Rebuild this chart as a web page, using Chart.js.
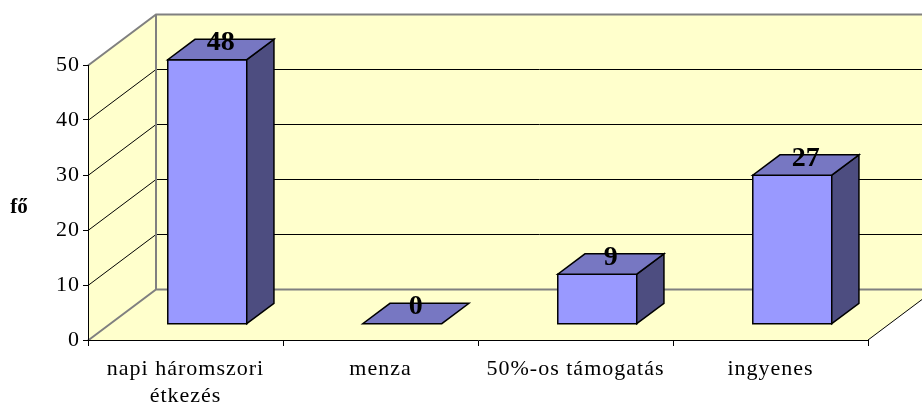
<!DOCTYPE html>
<html>
<head>
<meta charset="utf-8">
<script src="https://cdn.jsdelivr.net/npm/chart.js@4/dist/chart.umd.min.js"></script>
<style>
  html, body { margin: 0; padding: 0; background: #fff; }
  #wrap { width: 922px; height: 405px; }
</style>
</head>
<body>
<div id="wrap"><canvas id="c" width="922" height="405"></canvas></div>
<script>
// ---- data ----
const categories = [['napi háromszori', 'étkezés'], 'menza', '50%-os támogatás', 'ingyenes'];
const values = [48, 0, 9, 27];
const yTicks = [0, 10, 20, 30, 40, 50];
const yTitle = 'fő';

// ---- style ----
const FONT = '"Liberation Serif", "Times New Roman", serif';
const LETTER = '1px';
const WALL = '#FFFFCC';
const EDGE = '#808080';
const FRONT = '#9999FF';
const TOP = '#7777C2';
const SIDE = '#4D4D80';
const DX = 68, DY = 51;       // wall depth (oblique projection)
const F0 = 0.32, F1 = 0.72;   // bar depth span as fraction of wall depth

const threeD = {
  id: 'threeD',
  beforeUpdate(chart) { chart.ctx.letterSpacing = LETTER; },
  beforeDraw(chart) {
    const { ctx, chartArea: a, scales: { y } } = chart;
    ctx.letterSpacing = LETTER;
    ctx.save();
    ctx.fillStyle = '#fff';
    ctx.fillRect(0, 0, chart.width, chart.height);
    const y0 = y.getPixelForValue(0), yMax = y.getPixelForValue(yTicks[yTicks.length - 1]);
    const farR = a.right + DX + 40;
    // back wall
    ctx.fillStyle = WALL;
    ctx.fillRect(a.left + DX, yMax - DY, farR - a.left - DX, y0 - yMax);
    // left wall
    ctx.beginPath();
    ctx.moveTo(a.left, y0); ctx.lineTo(a.left, yMax);
    ctx.lineTo(a.left + DX, yMax - DY); ctx.lineTo(a.left + DX, y0 - DY);
    ctx.closePath(); ctx.fill();
    // floor
    ctx.beginPath();
    ctx.moveTo(a.left, y0); ctx.lineTo(a.right, y0);
    ctx.lineTo(a.right + DX, y0 - DY); ctx.lineTo(a.left + DX, y0 - DY);
    ctx.closePath(); ctx.fill();
    // gridlines
    yTicks.forEach(v => {
      const py = Math.round(y.getPixelForValue(v)) + 0.5;
      const edge = (v === yTicks[0] || v === yTicks[yTicks.length - 1]);
      ctx.strokeStyle = edge ? EDGE : '#000';
      ctx.lineWidth = edge ? 2 : 1;
      ctx.beginPath();
      ctx.moveTo(a.left, py); ctx.lineTo(a.left + DX, py - DY); ctx.lineTo(farR, py - DY);
      ctx.stroke();
    });
    // back wall left edge
    ctx.strokeStyle = EDGE; ctx.lineWidth = 2;
    ctx.beginPath();
    ctx.moveTo(a.left + DX, yMax - DY); ctx.lineTo(a.left + DX, y0 - DY);
    ctx.stroke();
    // floor right edge
    ctx.strokeStyle = '#000'; ctx.lineWidth = 1;
    ctx.beginPath();
    ctx.moveTo(a.right, y0); ctx.lineTo(a.right + DX, y0 - DY);
    ctx.stroke();
    // axis title (horizontal)
    ctx.letterSpacing = '0px';
    ctx.fillStyle = '#000';
    ctx.font = 'bold 21px ' + FONT;
    ctx.textAlign = 'center'; ctx.textBaseline = 'middle';
    ctx.fillText(yTitle, 19, (a.top + a.bottom) / 2 + 5);
    ctx.restore();
  },
  afterDatasetsDraw(chart) {
    const { ctx, scales: { y } } = chart;
    const meta = chart.getDatasetMeta(0);
    ctx.save();
    ctx.lineWidth = 1.5; ctx.strokeStyle = '#000'; ctx.lineJoin = 'miter';
    const fx0 = DX * F0, fy0 = DY * F0;
    const bdx = DX * (F1 - F0), bdy = DY * (F1 - F0);
    meta.data.forEach((el, i) => {
      const v = values[i];
      const w = el.width;
      const L = el.x - w / 2 + fx0, R = L + w;
      const B = y.getPixelForValue(0) - fy0;
      const T = y.getPixelForValue(v) - fy0;
      const poly = (pts, fill) => {
        ctx.beginPath();
        ctx.moveTo(pts[0][0], pts[0][1]);
        for (let k = 1; k < pts.length; k++) ctx.lineTo(pts[k][0], pts[k][1]);
        ctx.closePath(); ctx.fillStyle = fill; ctx.fill(); ctx.stroke();
      };
      if (B - T > 0.5) {
        poly([[L, B], [R, B], [R, T], [L, T]], FRONT);
        poly([[R, B], [R + bdx, B - bdy], [R + bdx, T - bdy], [R, T]], SIDE);
      }
      poly([[L, T], [R, T], [R + bdx, T - bdy], [L + bdx, T - bdy]], TOP);
      // value label
      ctx.save();
      ctx.letterSpacing = '0px';
      ctx.fillStyle = '#000';
      ctx.font = 'bold 28px ' + FONT;
      ctx.textAlign = 'center'; ctx.textBaseline = 'alphabetic';
      ctx.fillText(String(v), (L + R) / 2 + bdx / 2, T - bdy / 2 + 1);
      ctx.restore();
    });
    ctx.restore();
  }
};

new Chart(document.getElementById('c'), {
  type: 'bar',
  data: {
    labels: categories,
    datasets: [{
      data: values,
      backgroundColor: 'rgba(0,0,0,0)',
      borderWidth: 0,
      barPercentage: 0.405,
      categoryPercentage: 1
    }]
  },
  options: {
    responsive: false,
    animation: false,
    events: [],
    layout: { padding: { top: 65, right: 54, left: 0, bottom: 0 } },
    plugins: { legend: { display: false }, tooltip: { enabled: false }, title: { display: false } },
    scales: {
      x: {
        type: 'category',
        offset: true,
        afterFit(s) { s.height = 65; },
        grid: { display: true, offset: true, drawOnChartArea: false, drawTicks: true, tickLength: 6, color: '#000', lineWidth: 1 },
        border: { display: true, color: '#000', width: 1 },
        ticks: { color: '#000', font: { family: FONT, size: 22, lineHeight: 1.25 }, padding: 9, maxRotation: 0, autoSkip: false }
      },
      y: {
        min: yTicks[0],
        max: yTicks[yTicks.length - 1],
        afterFit(s) { s.width = 88; },
        afterBuildTicks(s) { s.ticks = yTicks.map(v => ({ value: v })); },
        grid: { display: true, drawOnChartArea: false, drawTicks: true, tickLength: 5, color: '#000', lineWidth: 1 },
        border: { display: true, color: '#000', width: 1 },
        ticks: { color: '#000', font: { family: FONT, size: 22 }, padding: 3 }
      }
    }
  },
  plugins: [threeD]
});
</script>
</body>
</html>
